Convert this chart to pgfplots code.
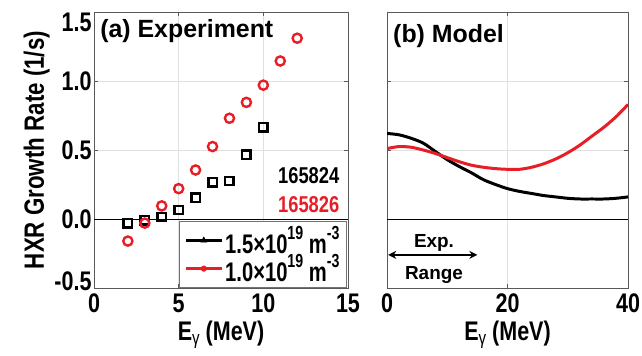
\documentclass[border=0pt]{standalone}
\usepackage{pgfplots}
\pgfplotsset{compat=1.18}
\usepackage{fontspec}
\setmainfont{Liberation Sans}
\newfontfamily\cond[FakeStretch=0.8]{Liberation Sans}
\newfontfamily\condl[FakeStretch=0.75]{Liberation Sans}
\usetikzlibrary{arrows.meta}
\definecolor{myred}{RGB}{232,30,38}
\newcommand{\gam}{\raisebox{-0.12em}{\mdseries\fontsize{19}{19}\selectfont γ}}
\newcommand{\mysup}[1]{\raisebox{0.5em}{\fontsize{19}{19}\selectfont #1}}
\begin{document}
\begin{tikzpicture}
\useasboundingbox (0,0) rectangle (642bp,356bp);
\pgfplotsset{
  every axis/.append style={
    scale only axis, height=276bp,
    ymin=-0.5, ymax=1.5,
    axis line style={draw=black!65, line width=0.6pt},
    grid=major, major grid style={black!12, line width=0.5pt},
    tick style={black!65, line width=0.6pt}, tick align=inside,
    major tick length=4bp,
    ytick={-0.5,0,0.5,1,1.5},
    /pgf/number format/assume math mode=true,
    tick label style={font=\cond\bfseries\fontsize{27}{30}\selectfont},
    xticklabel style={yshift=-2bp},
    yticklabel style={xshift=1bp},
    clip=true,
  },
}
% ---------------- left panel ----------------
\begin{axis}[
  at={(94bp,68bp)}, anchor=south west, width=254bp,
  xmin=0, xmax=15, xtick={0,5,10,15},
  yticklabels={\smash{\raisebox{-2.7bp}{-0.5}},0.0,0.5,1.0,\smash{\raisebox{-19.7bp}{1.5}}},
  xticklabel style={/pgf/number format/.cd, fixed},
  xlabel={E\gam{} (MeV)},
  ylabel={HXR Growth Rate (1/s)},
  xlabel style={font=\cond\bfseries\fontsize{27}{30}\selectfont, yshift=-2bp},
  ylabel style={font=\cond\bfseries\fontsize{28}{30}\selectfont, yshift=-2bp},
  legend cell align=left,
  legend style={at={(0.995,0)}, anchor=south east, draw=black!55, line width=0.6pt,
    fill=white, font=\condl\bfseries\fontsize{27}{28}\selectfont,
    inner xsep=5bp, inner ysep=3bp, row sep=-4bp},
  legend image code/.code={\draw[mark repeat=2,mark phase=2,#1] plot coordinates {(0bp,0bp) (18bp,0bp) (36bp,0bp)};},
]
\draw[black, line width=0.6pt] (axis cs:0,0) -- (axis cs:15,0);
\addplot[only marks, black, mark=square, mark size=4.2bp, line width=2.4pt, forget plot] coordinates {
  (2,-0.03) (3,-0.01) (4,0.015) (5,0.065) (6,0.155) (7,0.265) (8,0.275) (9,0.465) (10,0.665)
};
\addplot[only marks, myred, mark=o, mark size=4.6bp, line width=2.4pt, forget plot] coordinates {
  (2,-0.16) (3,-0.03) (4,0.095) (5,0.22) (6,0.355) (7,0.525) (8,0.73) (9,0.845) (10,0.97) (11,1.145) (12,1.31)
};
\addlegendimage{black, line width=2.8pt, mark=triangle*, mark size=3.5bp, mark options={line width=0.5pt}}
\addlegendentry{1.5×10\mysup{19} m\mysup{-3}}
\addlegendimage{myred, line width=2.8pt, mark=*, mark size=2.8bp, mark options={line width=0.5pt}}
\addlegendentry{1.0×10\mysup{19} m\mysup{-3}}
\node[anchor=north west, inner sep=0pt, font=\bfseries\fontsize{25}{28}\selectfont] at (rel axis cs:0.024,0.975) {(a) Experiment};
\node[anchor=base east, inner sep=0pt, font=\cond\bfseries\fontsize{23}{26}\selectfont] at (axis cs:14.5,0.255) {165824};
\node[anchor=base east, inner sep=0pt, text=myred, font=\cond\bfseries\fontsize{23}{26}\selectfont] at (axis cs:14.5,0.045) {165826};
\end{axis}
% ---------------- right panel ----------------
\begin{axis}[
  at={(387bp,68bp)}, anchor=south west, width=241bp,
  xmin=0, xmax=40, xtick={0,20,40},
  yticklabels={},
  xlabel={E\gam{} (MeV)},
  xlabel style={font=\cond\bfseries\fontsize{27}{30}\selectfont, yshift=-2bp},
]
\draw[black, line width=0.6pt] (axis cs:0,0) -- (axis cs:40,0);
\addplot[black, line width=3pt, smooth] coordinates {
  (0,0.62) (2,0.61) (4,0.585) (6,0.55) (8,0.49) (10,0.43) (12,0.38) (14,0.335) (16,0.285)
  (18,0.25) (20,0.22) (22,0.20) (24,0.185) (26,0.17) (28,0.16) (30,0.15) (32,0.145)
  (34,0.145) (36,0.145) (38,0.15) (40,0.16)
};
\addplot[myred, line width=3pt, smooth] coordinates {
  (0,0.51) (2,0.525) (4,0.52) (6,0.50) (8,0.475) (10,0.445) (12,0.415) (14,0.39) (16,0.375)
  (18,0.365) (20,0.36) (22,0.36) (24,0.375) (26,0.40) (28,0.435) (30,0.48) (32,0.535)
  (34,0.60) (36,0.665) (38,0.74) (40,0.83)
};
\node[anchor=north west, inner sep=0pt, font=\bfseries\fontsize{25}{28}\selectfont] at (rel axis cs:0.025,0.955) {(b) Model};
\draw[{Stealth[length=8bp,width=8bp]}-{Stealth[length=8bp,width=8bp]}, line width=1.6pt] (axis cs:0.2,-0.26) -- (axis cs:15,-0.26);
\node[anchor=base, inner sep=0pt, font=\bfseries\fontsize{19}{22}\selectfont] at (axis cs:7.8,-0.205) {Exp.};
\node[anchor=base, inner sep=0pt, font=\bfseries\fontsize{19}{22}\selectfont] at (axis cs:7.8,-0.44) {Range};
\end{axis}
\end{tikzpicture}
\end{document}
